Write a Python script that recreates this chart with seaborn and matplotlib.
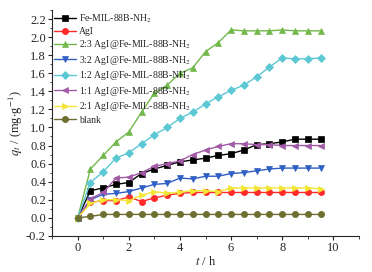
import numpy as np
import pandas as pd
import matplotlib
matplotlib.use("Agg")
import matplotlib.pyplot as plt
import seaborn as sns
from matplotlib.ticker import MultipleLocator

t = [0, 0.5, 1, 1.5, 2, 2.5, 3, 3.5, 4, 4.5, 5, 5.5, 6, 6.5, 7, 7.5, 8, 8.5, 9, 9.5]

fe_mil = [0, 0.30, 0.33, 0.37, 0.39, 0.49, 0.54, 0.58, 0.62, 0.64, 0.66, 0.69, 0.71, 0.75, 0.81, 0.82, 0.84, 0.87, 0.87, 0.87]
agi = [0, 0.17, 0.19, 0.19, 0.23, 0.18, 0.22, 0.25, 0.27, 0.28, 0.28, 0.28, 0.28, 0.28, 0.28, 0.28, 0.28, 0.28, 0.28, 0.28]
r23 = [0, 0.54, 0.69, 0.84, 0.95, 1.17, 1.38, 1.47, 1.60, 1.66, 1.84, 1.94, 2.08, 2.07, 2.07, 2.07, 2.08, 2.07, 2.07, 2.07]
r32 = [0, 0.20, 0.26, 0.27, 0.29, 0.33, 0.37, 0.38, 0.44, 0.43, 0.46, 0.46, 0.49, 0.50, 0.52, 0.54, 0.55, 0.55, 0.55, 0.55]
r12 = [0, 0.39, 0.51, 0.66, 0.72, 0.82, 0.92, 1.00, 1.10, 1.17, 1.26, 1.34, 1.41, 1.47, 1.56, 1.67, 1.77, 1.76, 1.76, 1.77]
r11 = [0, 0.21, 0.28, 0.44, 0.45, 0.50, 0.57, 0.60, 0.63, 0.70, 0.75, 0.79, 0.82, 0.82, 0.81, 0.81, 0.80, 0.80, 0.80, 0.80]
r21 = [0, 0.16, 0.20, 0.20, 0.19, 0.25, 0.29, 0.27, 0.285, 0.30, 0.30, 0.29, 0.33, 0.33, 0.33, 0.33, 0.33, 0.33, 0.33, 0.32]
blank = [0, 0.015, 0.037, 0.037, 0.037, 0.037, 0.037, 0.037, 0.037, 0.037, 0.037, 0.037, 0.037, 0.037, 0.037, 0.037, 0.037, 0.037, 0.037, 0.037]

labels = [
    'Fe-MIL-88B-NH$_2$',
    'AgI',
    '2:3 AgI@Fe-MIL-88B-NH$_2$',
    '3:2 AgI@Fe-MIL-88B-NH$_2$',
    '1:2 AgI@Fe-MIL-88B-NH$_2$',
    '1:1 AgI@Fe-MIL-88B-NH$_2$',
    '2:1 AgI@Fe-MIL-88B-NH$_2$',
    'blank',
]
series = [fe_mil, agi, r23, r32, r12, r11, r21, blank]
colors = ['#000000', '#ff2a2a', '#72b84a', '#2f5fc4', '#5cc8d4', '#a25aa6', '#f2e634', '#6e6e30']
markers = ['s', 'o', '^', 'v', 'D', '<', '>', 'o']

rows = []
for lab, vals in zip(labels, series):
    for tt, v in zip(t, vals):
        rows.append({'t': tt, 'q': v, 'sample': lab})
df = pd.DataFrame(rows)

sns.set_style('ticks')
plt.rcParams['font.family'] = ['Liberation Serif', 'DejaVu Serif']
plt.rcParams['mathtext.fontset'] = 'stix'

fig = plt.figure(figsize=(3.72, 2.72), dpi=100)
ax = fig.add_axes([0.14, 0.133, 0.825, 0.83])

sns.lineplot(data=df, x='t', y='q', hue='sample', style='sample',
             hue_order=labels, style_order=labels,
             palette=dict(zip(labels, colors)),
             markers=dict(zip(labels, markers)), dashes=False,
             markersize=4.5, markeredgewidth=0.5, linewidth=1.0, ax=ax)

for line in ax.get_lines():
    line.set_markeredgecolor(line.get_color())

ax.set_xlim(-1, 11)
ax.set_ylim(-0.2, 2.3)
ax.xaxis.set_major_locator(MultipleLocator(2))
ax.xaxis.set_minor_locator(MultipleLocator(1))
ax.yaxis.set_minor_locator(MultipleLocator(0.1))
ax.set_yticks(np.arange(-0.2, 2.21, 0.2))
ax.set_yticklabels(['%.1f' % v for v in np.arange(-0.2, 2.21, 0.2)])
ax.tick_params(axis='both', which='major', direction='out', length=3, width=0.8, labelsize=9, pad=1.5)
ax.tick_params(axis='both', which='minor', direction='out', length=1.8, width=0.6)
sns.despine(ax=ax)

ax.set_xlabel(r'$t$ / h', fontsize=9, labelpad=1)
ax.set_ylabel(r'$q_t$ / (mg$\cdot$g$^{-1}$)', fontsize=9, labelpad=1)

leg = ax.legend(loc='upper left', frameon=False, fontsize=7, handlelength=2.3,
                handletextpad=0.3, labelspacing=0.25, borderaxespad=0.1,
                borderpad=0.1)

fig.savefig('out.png', dpi=100)
